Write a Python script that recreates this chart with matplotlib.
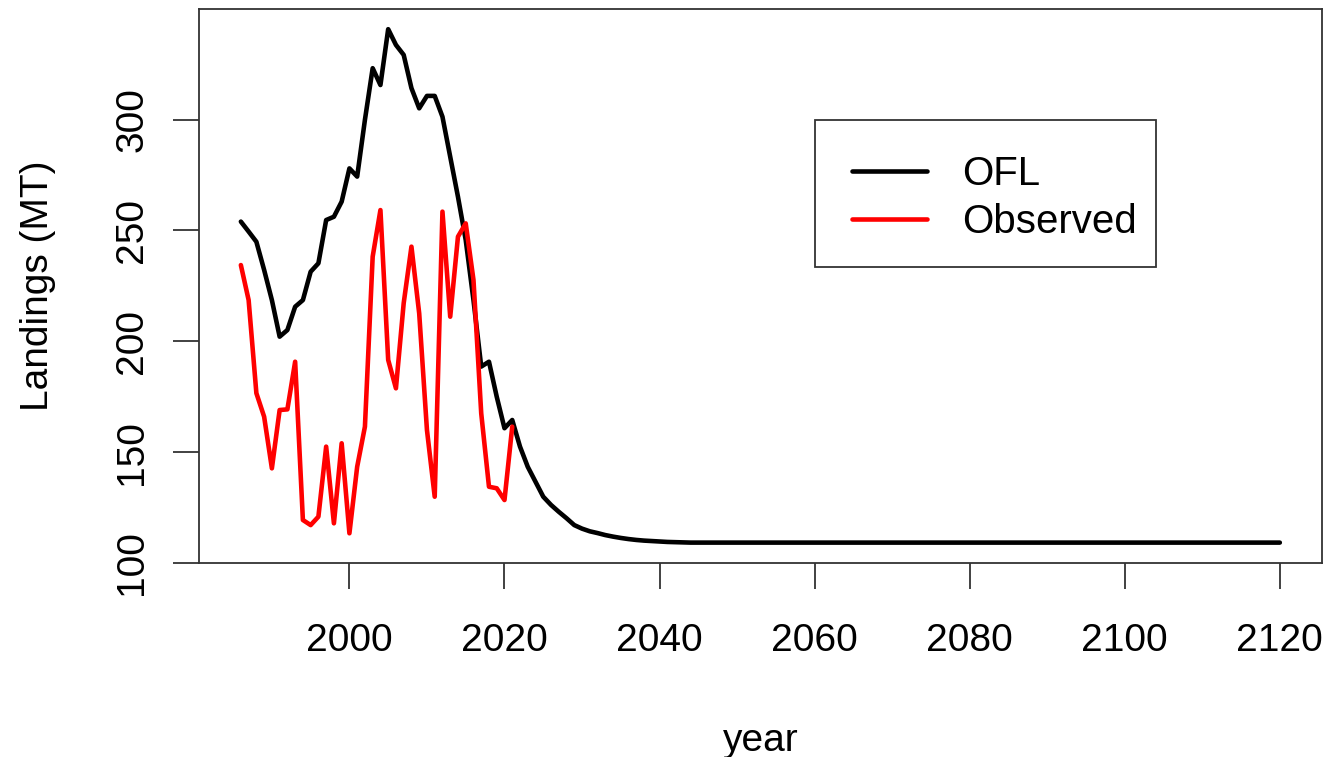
import matplotlib
matplotlib.use("Agg")
import matplotlib.pyplot as plt
from matplotlib.patches import Rectangle

plt.rcParams['font.family'] = ['Liberation Sans', 'DejaVu Sans']

ofl_years = list(range(1986, 2121))
ofl = [
    254.0, 249.5, 244.9, 232.2, 218.6, 202.1, 205.1, 215.6, 218.6, 231.4,
    235.2, 254.7, 256.2, 263.0, 278.0, 274.3, 299.9, 323.2, 315.6, 340.8,
    333.7, 329.2, 314.2, 305.1, 310.7, 310.7, 301.3, 283.3, 265.2, 245.7,
    218.6, 188.6, 190.8, 175.0, 160.8, 164.5, 152.5, 143.4, 136.7, 129.9,
    126.2, 123.1, 120.2, 117.1, 115.5, 114.3, 113.5, 112.6, 111.9, 111.3,
    110.8, 110.4, 110.1, 109.9, 109.7, 109.5, 109.4, 109.3, 109.2, 109.2,
    109.2, 109.2, 109.2, 109.2, 109.2, 109.2, 109.2, 109.2, 109.2, 109.2,
    109.2, 109.2, 109.2, 109.2, 109.2, 109.2, 109.2, 109.2, 109.2, 109.2,
    109.2, 109.2, 109.2, 109.2, 109.2, 109.2, 109.2, 109.2, 109.2, 109.2,
    109.2, 109.2, 109.2, 109.2, 109.2, 109.2, 109.2, 109.2, 109.2, 109.2,
    109.2, 109.2, 109.2, 109.2, 109.2, 109.2, 109.2, 109.2, 109.2, 109.2,
    109.2, 109.2, 109.2, 109.2, 109.2, 109.2, 109.2, 109.2, 109.2, 109.2,
    109.2, 109.2, 109.2, 109.2, 109.2, 109.2, 109.2, 109.2, 109.2, 109.2,
    109.2, 109.2, 109.2, 109.2, 109.2,
]

obs_years = list(range(1986, 2022))
observed = [
    234.4, 218.6, 176.6, 166.0, 142.7, 169.0, 169.3, 190.8, 119.4, 117.1,
    120.9, 152.5, 117.9, 154.0, 113.4, 143.4, 161.5, 238.2, 259.2, 191.6,
    178.8, 217.2, 242.7, 212.6, 160.0, 129.9, 258.5, 211.1, 247.2, 253.2,
    227.7, 167.5, 134.4, 133.7, 128.4, 161.5,
]

x_ticks = [2000, 2020, 2040, 2060, 2080, 2100, 2120]
y_ticks = [100, 150, 200, 250, 300]

W, H = 1327, 757
AX_L, AX_R, AX_T, AX_B = 199, 1321.7, 9, 563
fig = plt.figure(figsize=(W / 100, H / 100), dpi=100)
ax = fig.add_axes([AX_L / W, 1 - AX_B / H, (AX_R - AX_L) / W, (AX_B - AX_T) / H])


def axc(px, py):
    return (px - AX_L) / (AX_R - AX_L), 1 - (py - AX_T) / (AX_B - AX_T)


lw = 3.3
ax.plot(ofl_years, ofl, color='black', lw=lw, label='OFL',
        solid_joinstyle='round', solid_capstyle='round')
ax.plot(obs_years, observed, color='red', lw=lw, label='Observed',
        solid_joinstyle='round', solid_capstyle='round')

ax.set_xlim(1980.6, 2125.4)
ax.set_ylim(100, 349.9)
ax.set_xticks(x_ticks)
ax.set_yticks(y_ticks)
ax.set_yticklabels([str(v) for v in y_ticks], rotation=90, va='center')

fs = 28
ax.tick_params(axis='both', labelsize=fs, length=19, width=1.3, color='#333333')
ax.tick_params(axis='x', pad=24)
ax.tick_params(axis='y', pad=16)
for s in ax.spines.values():
    s.set_linewidth(1.3)
    s.set_color('#333333')

ax.set_xlabel('year', fontsize=fs, labelpad=46)
ax.set_ylabel('Landings (MT)', fontsize=fs, labelpad=42)

# legend frame
x0, y0 = axc(815, 267)
x1, y1 = axc(1156, 120)
ax.add_patch(Rectangle((x0, y0), x1 - x0, y1 - y0, transform=ax.transAxes,
                       facecolor='white', edgecolor='#333333', lw=1.3, zorder=5))

lfs = 29
ax_anchor = axc(852, 155)
leg = ax.legend(loc='upper left', bbox_to_anchor=ax_anchor,
                fontsize=lfs, frameon=False,
                handlelength=1.86, handletextpad=0.87, borderpad=0, labelspacing=0.24,
                borderaxespad=0)
leg.set_zorder(6)
for line in leg.get_lines():
    line.set_linewidth(lw)

fig.savefig('out.png', dpi=100)
